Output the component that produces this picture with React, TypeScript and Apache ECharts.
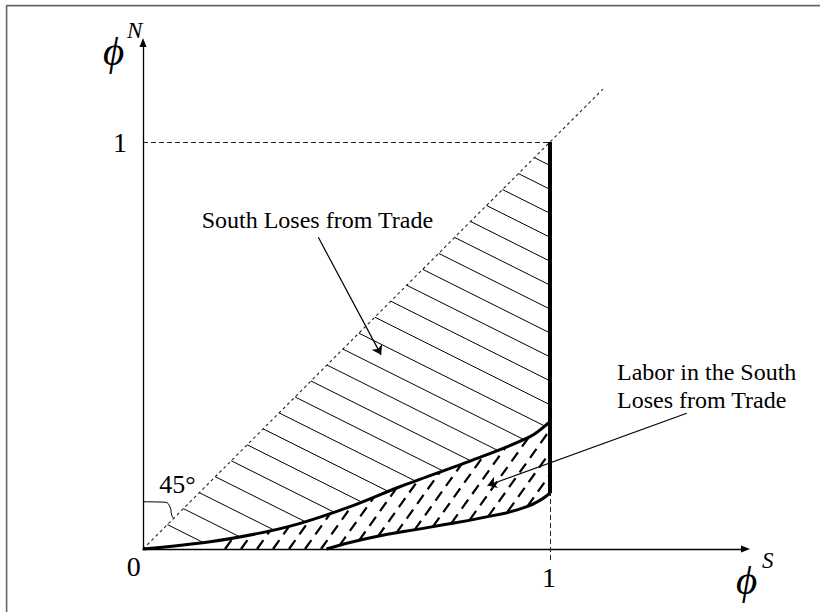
import React, { useEffect, useRef } from "react";
import * as echarts from "echarts";

// Curves (data units, both axes 0..1)
const upperX = [0, 0.165, 0.287, 0.386, 0.509, 0.631, 0.811, 0.951, 1.0];
const upperY = [0, 0.018, 0.039, 0.063, 0.104, 0.153, 0.219, 0.276, 0.313];
const lowerX = [0.451, 0.55, 0.713, 0.844, 0.943, 1.0];
const lowerY = [0, 0.026, 0.055, 0.079, 0.104, 0.137];
const diagonalEnd = 1.13;
const braceX = [0, 0.054, 0.066, 0.0705, 0.0745];
const braceY = [0.116, 0.115, 0.104, 0.0835, 0.0754];

// Hatching parameters
const solidHatchSlope = -0.5;
const solidHatchFirst = 0.09;
const solidHatchStep = 0.0588;
const solidHatchCount = 24;
const dashHatchSlope = 1.4;
const dashHatchFirst = 0.2015;
const dashHatchStep = 0.0393;

// Labels
const tickZero = "0";
const tickOne = "1";
const southLabel = "South Loses from Trade";
const laborLabel = ["Labor in the South", "Loses from Trade"];
const angleLabel = "45°";
const phi = "ϕ";
const supN = "N";
const supS = "S";

// Arrows (data coords)
const arrowSouth = [[0.4307, 0.7658], [0.585, 0.477]];
const arrowLabor = [[1.336, 0.3334], [0.8464, 0.156]];

function interp(xs: number[], ys: number[], x: number) {
  if (x <= xs[0]) return ys[0];
  for (let i = 1; i < xs.length; i++) {
    if (x <= xs[i]) {
      const t = (x - xs[i - 1]) / (xs[i] - xs[i - 1]);
      return ys[i - 1] + t * (ys[i] - ys[i - 1]);
    }
  }
  return ys[ys.length - 1];
}
const upper = (x: number) => interp(upperX, upperY, x);
const lowerB = (x: number) => (x < lowerX[0] ? 0 : interp(lowerX, lowerY, x));

function bisect(f: (x: number) => number, a: number, b: number) {
  let lo = a, hi = b;
  for (let i = 0; i < 60; i++) {
    const m = (lo + hi) / 2;
    if (f(lo) * f(m) <= 0) hi = m; else lo = m;
  }
  return (lo + hi) / 2;
}

function solidHatch() {
  const out: any[] = [];
  for (let k = 0; k < solidHatchCount; k++) {
    const c = solidHatchFirst + k * solidHatchStep;
    const xs = c / (1 - solidHatchSlope);
    const yAt = (x: number) => c + solidHatchSlope * x;
    const f = (x: number) => yAt(x) - upper(x);
    let xe = 1;
    if (f(1) < 0) xe = bisect(f, xs, 1);
    out.push({ coords: [[xs, yAt(xs)], [xe, yAt(xe)]] });
  }
  return out;
}

function dashHatch() {
  const out: any[] = [];
  for (let k = 0; k < 40; k++) {
    const x0 = dashHatchFirst + k * dashHatchStep;
    if (x0 > 1) break;
    const yAt = (x: number) => dashHatchSlope * (x - x0);
    let xs = x0;
    if (x0 >= lowerX[0]) {
      const g = (x: number) => yAt(x) - lowerB(x);
      if (g(1) <= 0) continue;
      xs = bisect(g, x0, 1);
    }
    const h = (x: number) => yAt(x) - upper(x);
    let xe = 1;
    if (h(1) > 0) xe = bisect(h, xs, 1);
    if (xe - xs < 0.002) continue;
    out.push({ coords: [[xs, yAt(xs)], [xe, yAt(xe)]] });
  }
  return out;
}

export default function App() {
  const ref = useRef<HTMLDivElement>(null);
  useEffect(() => {
    const chart = echarts.init(ref.current!, null, { renderer: "svg" });
    const X_MAX = 1.4803;
    const Y_MAX = 1.2445;
    const black = "#000";
    const serif = "'Liberation Serif', 'Times New Roman', 'DejaVu Serif', serif";
    const axis = (max: number) => ({
      type: "value",
      min: 0,
      max,
      axisLine: {
        show: true,
        onZero: false,
        symbol: ["none", "triangle"],
        symbolSize: [7, 9],
        lineStyle: { color: black, width: 1.3 },
      },
      axisTick: { show: false },
      axisLabel: { show: false },
      splitLine: { show: false },
    });
    const seg = (pts: number[][], style: any, z = 2) => ({
      type: "lines",
      coordinateSystem: "cartesian2d",
      polyline: false,
      clip: false,
      silent: true,
      z,
      data: [{ coords: pts }],
      lineStyle: { opacity: 1, curveness: 0, ...style },
    });
    const curve = (xs: number[], ys: number[], width: number, smooth: number) => ({
      type: "line",
      data: xs.map((x, i) => [x, ys[i]]),
      showSymbol: false,
      symbol: "none",
      smooth,
      clip: false,
      silent: true,
      z: 5,
      lineStyle: { color: black, width },
    });
    chart.setOption({
      animation: false,
      backgroundColor: "#fff",
      grid: { left: 143, right: 74.5, top: 42.5, bottom: 63 },
      xAxis: axis(X_MAX),
      yAxis: axis(Y_MAX),
      series: [
        seg([[0, 0], [diagonalEnd, diagonalEnd]], { color: "#222", width: 1.1, type: [3, 3] }),
        seg([[0, 1], [1, 1]], { color: "#222", width: 1, type: [5, 3] }),
        seg([[1, -0.027], [1, lowerY[lowerY.length - 1]]], { color: "#222", width: 1, type: [5, 3] }),
        {
          type: "lines",
          coordinateSystem: "cartesian2d",
          clip: false,
          silent: true,
          z: 2,
          data: solidHatch(),
          lineStyle: { color: black, width: 1, opacity: 1, curveness: 0 },
        },
        {
          type: "lines",
          coordinateSystem: "cartesian2d",
          clip: false,
          silent: true,
          z: 2,
          data: dashHatch(),
          lineStyle: { color: black, width: 2.2, opacity: 1, curveness: 0, type: [11, 7] },
        },
        curve(upperX, upperY, 3, 0.3),
        curve(lowerX, lowerY, 3, 0.5),
        seg([[1, lowerY[lowerY.length - 1]], [1, 1]], { color: black, width: 4 }, 6),
        curve(braceX, braceY, 1, 0.5),
        {
          type: "lines",
          coordinateSystem: "cartesian2d",
          clip: false,
          silent: true,
          z: 7,
          symbol: ["none", "arrow"],
          symbolSize: 9,
          data: [{ coords: arrowSouth }, { coords: arrowLabor }],
          lineStyle: { color: black, width: 1.2, opacity: 1, curveness: 0 },
        },
      ],
    });
    const px = (p: number[]) => chart.convertToPixel({ gridIndex: 0 }, p) as number[];
    const txt = (p: number[], text: string, size: number, align: string, italic = false) => {
      const q = px(p);
      return {
        type: "text",
        x: q[0],
        y: q[1],
        z: 10,
        silent: true,
        style: {
          text,
          fill: black,
          fontSize: size,
          fontFamily: serif,
          fontStyle: italic ? "italic" : "normal",
          textAlign: align,
          textVerticalAlign: "middle",
          align,
          verticalAlign: "middle",
        },
      };
    };
    chart.setOption({
      graphic: [
        { type: "line", shape: { x1: 7, y1: 5.6, x2: 820, y2: 5.6 }, style: { stroke: "#666", lineWidth: 1.6 } },
        { type: "line", shape: { x1: 6.6, y1: 5, x2: 6.6, y2: 612 }, style: { stroke: "#666", lineWidth: 1.6 } },
        txt([0.1442, 0.8079], southLabel, 24, "left"),
        txt([1.1646, 0.4351], laborLabel[0], 24, "left"),
        txt([1.1646, 0.3663], laborLabel[1], 24, "left"),
        txt([0.04, 0.1585], angleLabel, 26, "left"),
        txt([-0.0229, -0.043], tickZero, 28, "center"),
        txt([0.9975, -0.07], tickOne, 28, "center"),
        txt([-0.0565, 1.0], tickOne, 28, "center"),
        txt([-0.0725, 1.224], phi, 41, "center", true),
        txt([-0.0393, 1.2737], supN, 23, "left", true),
        txt([1.483, -0.077], phi, 41, "center", true),
        txt([1.5209, -0.0285], supS, 23, "left", true),
      ],
    });
    return () => chart.dispose();
  }, []);
  return (
    <div
      ref={ref}
      style={{ position: "absolute", left: 0, top: 0, width: 820, height: 612 }}
    />
  );
}
